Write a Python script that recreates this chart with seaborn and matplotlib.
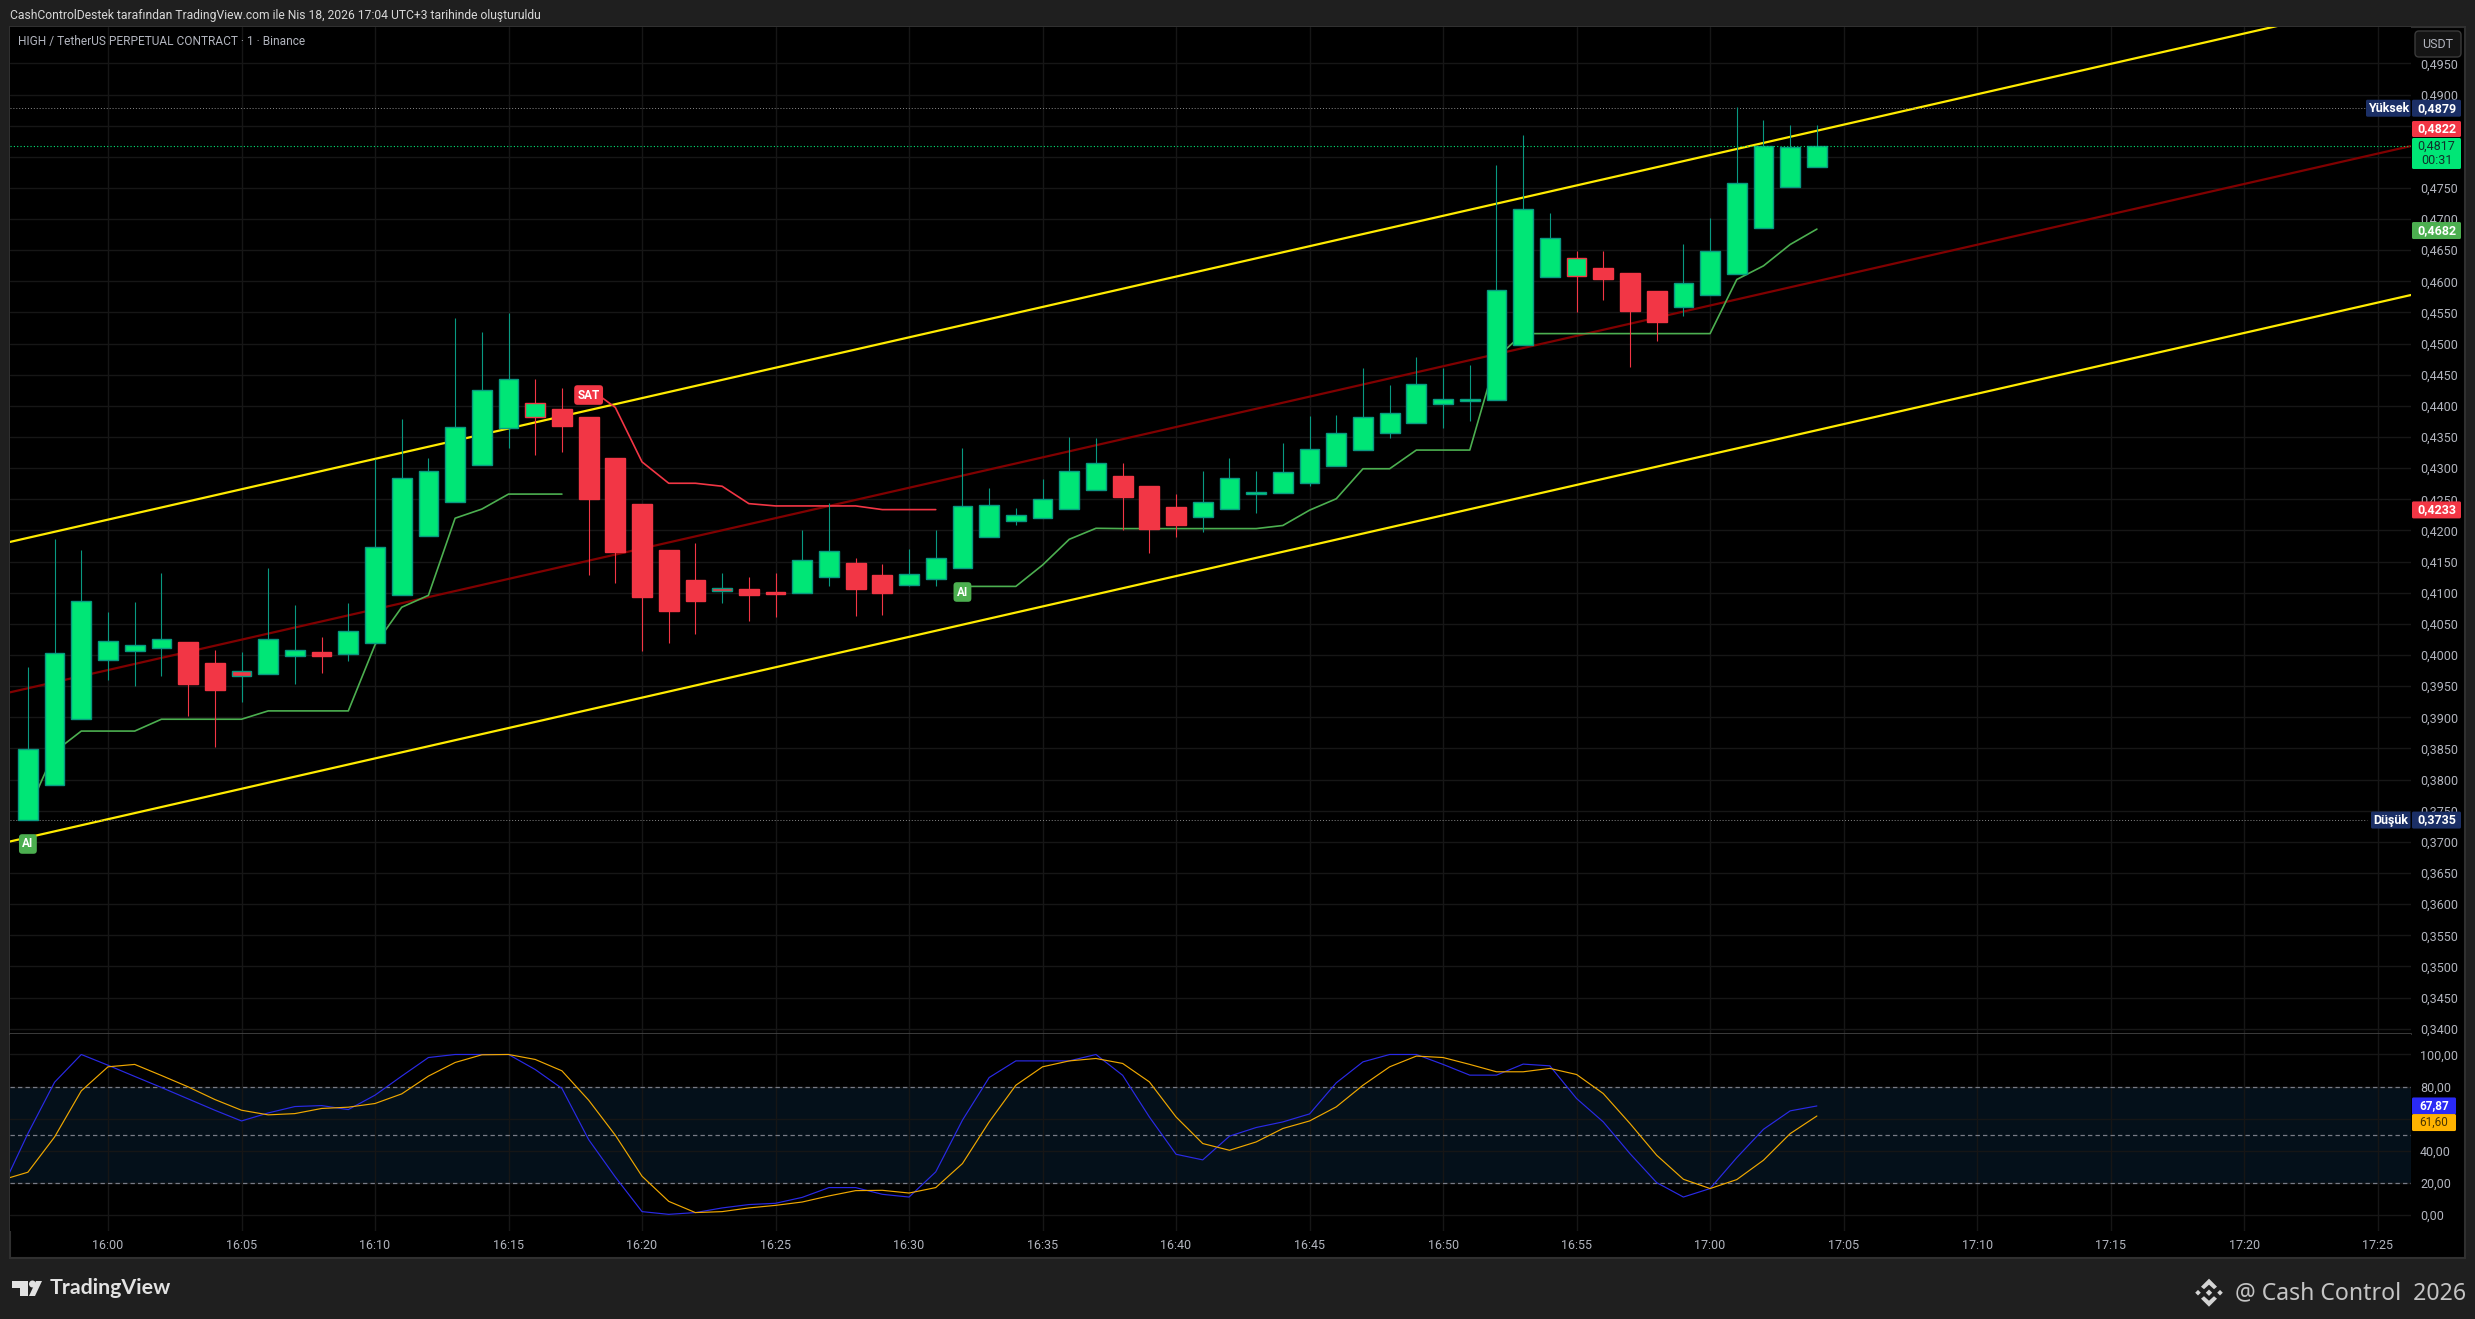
import numpy as np
import pandas as pd
import seaborn as sns
import matplotlib
matplotlib.use("Agg")
import matplotlib.pyplot as plt
from matplotlib.patches import Rectangle, FancyBboxPatch, Polygon, Circle

# ---------- data ----------
first_minute = -3   # minutes relative to 16:00
opens = [.37349,.37908,.38969,.39922,.40062,.40113,.40202,.39865,.39738,.39700,.39992,.40043,.40018,.40196,.40964,.41911,.42451,
         .43054,.43645,.43823,.43944,.43817,.43156,.42421,.41681,.41199,.41081,.41054,.41017,.41001,.41258,.41472,.41279,.41124,
         .41226,.41402,.41901,.42158,.42206,.42351,.42651,.42871,.42710,.42372,.42217,.42348,.42584,.42605,.42766,.43034,.43291,
         .43570,.43730,.44036,.44079,.44095,.44979,.46062,.46078,.46222,.46131,.45842,.45595,.45788,.46126,.46849,.47509,.47830]
closes = [.38493,.40037,.40875,.40227,.40164,.40259,.39528,.39433,.39656,.40259,.40081,.39986,.40386,.41739,.42845,.42959,.43664,
          .44261,.44439,.44052,.43677,.42502,.41650,.40931,.40706,.40867,.41027,.40963,.40974,.41531,.41676,.41059,.40995,.41306,
          .41563,.42399,.42415,.42255,.42512,.42962,.43091,.42539,.42029,.42083,.42464,.42846,.42621,.42943,.43312,.43570,.43827,
          .43891,.44357,.44116,.44116,.45869,.47155,.46689,.46378,.46040,.45526,.45349,.45981,.46480,.47573,.48168,.48152,.48178]
highs = [.39802,.41860,.41682,.40685,.40844,.41314,.40202,.40088,.40049,.41390,.40799,.40284,.40831,.43150,.43785,.43169,.45405,
         .45183,.45488,.44427,.44281,.43817,.43156,.42421,.41681,.41794,.41311,.41247,.41311,.42003,.42447,.41553,.41456,.41697,
         .42000,.43332,.42689,.42367,.42823,.43498,.43482,.43091,.42710,.42581,.42951,.43157,.42948,.43398,.43832,.43848,.44615,
         .44331,.44781,.44604,.44652,.47868,.48350,.47096,.46480,.46480,.46131,.45842,.46598,.47010,.48795,.48591,.48511,.48511]
lows = [.37349,.37908,.38969,.39592,.39509,.39656,.39020,.38531,.39243,.39700,.39528,.39719,.39897,.40196,.40964,.41911,.42451,
        .43054,.43328,.43213,.43258,.41282,.41149,.40063,.40186,.40331,.40829,.40545,.40609,.41001,.41108,.40625,.40642,.41108,
        .41108,.41402,.41901,.42088,.42206,.42351,.42651,.42008,.41633,.41896,.41976,.42348,.42273,.42605,.42712,.43034,.43291,
        .43484,.43730,.43639,.43757,.44095,.44979,.46062,.45510,.45703,.44625,.45043,.45445,.45788,.46126,.46849,.47509,.47830]
swapped_edge_candles = [8, 19, 26, 58]   # candles whose outline/wick uses the opposite colour

trend_a_minutes = list(range(-3, 18))
trend_a = [.37489,.38448,.38779,.38779,.38779,.38969,.38969,.38969,.38969,.39103,.39103,.39103,.39103,.40164,.40767,.40958,
           .42197,.42343,.42584,.42584,.42584]
trend_b_minutes = list(range(18, 32))
trend_b = [.44290,.43975,.43101,.42758,.42758,.42710,.42431,.42394,.42394,.42394,.42394,.42335,.42335,.42335]
trend_c_minutes = list(range(32, 65))
trend_c = [.41102,.41102,.41102,.41445,.41858,.42035,.42030,.42030,.42030,.42030,.42030,.42030,.42080,.42326,.42509,.42991,
           .42991,.43291,.43291,.43291,.44775,.45161,.45161,.45161,.45161,.45161,.45161,.45161,.45161,.46030,.46249,.46592,.46839]

channel_minutes = [-3.67, 86.25]
channel_upper = [.41816, .50589]
channel_mid = [.39401, .48173]
channel_lower = [.37006, .45781]

osc_minutes = list(range(-4, 65))
stoch_k = [15.2,50.6,82.7,100,93.3,86.3,79.4,72.3,65.2,58.5,63.5,67.5,68.1,65.6,74.6,86.5,98.1,100,100,100,90.6,78.8,46.9,23.5,
           1.9,0.2,1.3,4.2,6.3,7.1,10.8,16.9,16.9,12.7,11.0,26.7,59.0,85.6,96,96,96,100,87,61,37.7,34.2,49,54.4,57.9,62.9,82.3,
           95.4,100,100,93.8,87.1,87.1,94,92.9,72.5,57.9,38.1,20,11,16.3,35.6,53.3,64.8,67.87]
stoch_d = [21.5,26.5,48.5,77.3,92.3,93.8,86.9,79.8,71.9,65.2,62.3,63.1,66.3,67.1,69.4,75.4,86.5,95,99.8,100,96.9,89.8,71.5,49.6,
           24,8.3,1.3,1.9,4.2,5.8,7.9,11.7,15,15.2,13.5,16.9,31.9,57.9,80.8,92.3,96,97.5,94.4,82.9,61,44.4,40.2,45.4,53.8,58.5,
           67.3,80.8,92.3,99,98.1,93.8,89.2,89.2,91.3,87.5,75.6,56.9,37.1,22.1,16.3,21.9,34,50.6,61.6]

price_ticks = [round(.34 + .005 * i, 3) for i in range(32)]
osc_ticks = [0, 20, 40, 60, 80, 100]
time_ticks = list(range(0, 90, 5))
time_labels = ["16:00","16:05","16:10","16:15","16:20","16:25","16:30","16:35","16:40","16:45","16:50","16:55",
               "17:00","17:05","17:10","17:15","17:20","17:25"]
high_price, low_price, last_price = .4879, .3735, .4817

header = "CashControlDestek tarafından TradingView.com ile Nis 18, 2026 17:04 UTC+3 tarihinde oluşturuldu"
symbol = "HIGH / TetherUS PERPETUAL CONTRACT · 1 · Binance"

# ---------- style ----------
UP, DOWN, WICK_UP = "#00E676", "#F23645", "#089981"
BG, GRID, TXT = "#1f1f1f", "#161616", "#b2b5be"
sns.set_theme(style="dark", rc={"axes.facecolor": "black", "figure.facecolor": BG, "axes.edgecolor": "#2a2a2a",
                                "axes.grid": False, "text.color": TXT, "xtick.color": TXT, "ytick.color": TXT})
plt.rcParams["font.family"] = ["Roboto", "DejaVu Sans"]

W, H = 2475, 1319
fig = plt.figure(figsize=(W / 100, H / 100), dpi=100)

def px_axes(x0, y0, x1, y1, **kw):
    return fig.add_axes([x0 / W, 1 - y1 / H, (x1 - x0) / W, (y1 - y0) / H], **kw)

back = px_axes(0, 0, W, H, zorder=-1)
back.set_xlim(0, W); back.set_ylim(H, 0); back.axis("off")
back.add_patch(Rectangle((10, 27), 2455, 1231, fc="black", ec="#303030", lw=1.5))

ax = px_axes(10, 27, 2411, 1033.5, zorder=1)
osc = px_axes(10, 1033.5, 2411, 1231, zorder=1, sharex=ax)
top = px_axes(0, 0, W, H, zorder=10)
top.set_xlim(0, W); top.set_ylim(H, 0); top.axis("off")

XMIN, XMAX = -3.67, 86.25
ax.set_xlim(XMIN, XMAX)
ax.set_ylim(.33923, .50084)
osc.set_ylim(-10.2, 113.1)

for a in (ax, osc):
    a.grid(True, color=GRID, lw=1, zorder=0)
    a.set_axisbelow(True)
    a.yaxis.tick_right()
    a.tick_params(length=0, labelsize=9, pad=6.5)
    a.set_xlabel(""); a.set_ylabel("")
    for s in a.spines.values():
        s.set_visible(False)
ax.spines["bottom"].set_visible(True)
ax.spines["bottom"].set_color("#454545")
ax.spines["bottom"].set_linewidth(1.2)
ax.set_yticks(price_ticks)
ax.set_yticklabels([f"{p:.4f}".replace(".", ",") for p in price_ticks])
osc.set_yticks(osc_ticks)
osc.set_yticklabels([f"{v:.2f}".replace(".", ",") for v in osc_ticks])
osc.set_xticks(time_ticks)
osc.set_xticklabels(time_labels)
ax.tick_params(axis="x", labelbottom=False)
osc.tick_params(axis="x", pad=5.5)

# ---------- price pane ----------
minutes = np.arange(first_minute, first_minute + len(opens))
candles = pd.DataFrame({"m": minutes, "o": opens, "h": highs, "l": lows, "c": closes})
candles["up"] = candles.c >= candles.o
candles["fill"] = np.where(candles.up, UP, DOWN)
edge_up = candles.up.copy()
edge_up.iloc[swapped_edge_candles] = ~edge_up.iloc[swapped_edge_candles]
candles["edge"] = np.where(edge_up, WICK_UP, DOWN)

def line(a, x, y, color, lw, z=2):
    sns.lineplot(x=x, y=y, ax=a, color=color, linewidth=lw, estimator=None, sort=False, legend=False, zorder=z)

line(ax, channel_minutes, channel_upper, "#FFEB00", 1.6)
line(ax, channel_minutes, channel_lower, "#FFEB00", 1.6)
line(ax, channel_minutes, channel_mid, "#800000", 1.6)
line(ax, trend_a_minutes, trend_a, "#4CAF50", 1.2)
line(ax, trend_c_minutes, trend_c, "#4CAF50", 1.2)
line(ax, trend_b_minutes, trend_b, DOWN, 1.2)

ax.vlines(candles.m, candles.l, candles.h, colors=candles.edge, lw=0.8, zorder=3)
ax.bar(candles.m, (candles.c - candles.o).abs(), bottom=candles[["o", "c"]].min(axis=1), width=0.74,
       color=candles.fill, edgecolor=candles.edge, linewidth=1.0, zorder=4)

dots = (0, (1, 2))
ax.hlines([high_price, low_price], XMIN, 84.6, colors="#8a8a8a", lw=0.7, linestyles=[dots], zorder=2)
ax.hlines(last_price, XMIN, XMAX, colors=UP, lw=0.8, linestyles=[dots], zorder=5)

def signal(m, p, s, color):
    ax.text(m, p, s, ha="center", va="center", color="white", fontsize=8.5, fontweight="bold", zorder=6,
            bbox=dict(boxstyle="round,pad=0.28", fc=color, ec="none"))

signal(-3, .36966, "AI", "#4CAF50")
signal(32, .41012, "AI", "#4CAF50")
signal(18, .44175, "SAT", DOWN)

# ---------- oscillator pane ----------
osc.axhspan(20, 80, color="#04101A", zorder=0.5, lw=0)
osc.hlines([20, 50, 80], XMIN, XMAX, colors="#787B86", lw=0.9, linestyles=[(0, (3.5, 2.5))], zorder=1)
line(osc, osc_minutes, stoch_k, "#2A2AE6", 0.85, 3)
line(osc, osc_minutes, stoch_d, "#F0A800", 0.85, 4)
osc.set_xlim(XMIN, XMAX)
ax.set_xlim(XMIN, XMAX)
osc.set_xlabel(""); osc.set_ylabel(""); ax.set_xlabel(""); ax.set_ylabel("")

# ---------- labels on the axis ----------
def ypx(a, v):
    return H - a.transData.transform((0, v))[1]

def tag(a, v, s, bg, fg, h=17, x0=2412, x1=2461, size=9, bold=True):
    y = ypx(a, v)
    top.add_patch(FancyBboxPatch((x0 + 1, y - h / 2 + 1), x1 - x0 - 2, h - 2,
                                 boxstyle="round,pad=1,rounding_size=1.5", fc=bg, ec="none"))
    top.text((x0 + x1) / 2, y, s, ha="center", va="center", color=fg, fontsize=size,
             fontweight="bold" if bold else "normal", linespacing=1.2)

NAVY = "#1B2F66"
tag(ax, high_price - .0001, "0,4879", NAVY, "white")
tag(ax, high_price - .0001, "Yüksek", NAVY, "white", x0=2366, x1=2410.5)
tag(ax, low_price, "0,3735", NAVY, "white")
tag(ax, low_price, "Düşük", NAVY, "white", x0=2371, x1=2410.5)
tag(ax, .48446, "0,4822", DOWN, "white", h=16)
tag(ax, .48053, "0,4817\n00:31", UP, "#10302a", h=31, bold=False)
tag(ax, .46816, "0,4682", "#4CAF50", "white")
tag(ax, .4233, "0,4233", DOWN, "white")
tag(osc, 67.87, "67,87", "#2A2AF5", "white", x1=2456, size=8.5)
tag(osc, 57.5, "61,60", "#FFB300", "#4a3500", x1=2456, size=8.5, bold=False)

top.add_patch(FancyBboxPatch((2417, 33), 42, 22, boxstyle="round,pad=2,rounding_size=4", fc="#141414", ec="#3a3a3a", lw=1))
top.text(2438, 44.5, "USDT", ha="center", va="center", color=TXT, fontsize=9)

# ---------- header / footer ----------
top.text(10, 15, header, ha="left", va="center", color="#d8d8d8", fontsize=8.75)
top.text(18, 42, symbol, ha="left", va="center", color=TXT, fontsize=8.6)

LOGO = "#e2e2e2"
top.add_patch(Polygon([(12, 1281), (28, 1281), (28, 1296), (20, 1296), (20, 1288), (12, 1288)], fc=LOGO, ec="none"))
top.add_patch(Circle((32.5, 1284), 3.5, fc=LOGO, ec="none"))
top.add_patch(Polygon([(36, 1281), (42, 1281), (35, 1296), (29, 1296)], fc=LOGO, ec="none"))
top.text(49.5, 1288.5, "TradingView", ha="left", va="center", color=LOGO, fontsize=15.4, fontweight="bold", family="Lato")

top.text(2466, 1293, "@ Cash Control  2026", ha="right", va="center", color="#c4c4c4", fontsize=16.6, family="Noto Sans")
LX, LY = 2209, 1292.7
LC = "#d4d4d4"
for dx, r in [(-11, 2.8), (0, 3.2), (11, 2.8)]:
    top.add_patch(Polygon([(LX + dx - r, LY), (LX + dx, LY - r), (LX + dx + r, LY), (LX + dx, LY + r)], fc=LC, ec="none"))
for s in (-1, 1):
    top.add_patch(Polygon([(LX - 8, LY + s * 6), (LX, LY + s * 14), (LX + 8, LY + s * 6), (LX + 5, LY + s * 3.5),
                           (LX, LY + s * 8), (LX - 5, LY + s * 3.5)], fc=LC, ec="none"))

fig.savefig("out.png", dpi=100, facecolor=BG)
